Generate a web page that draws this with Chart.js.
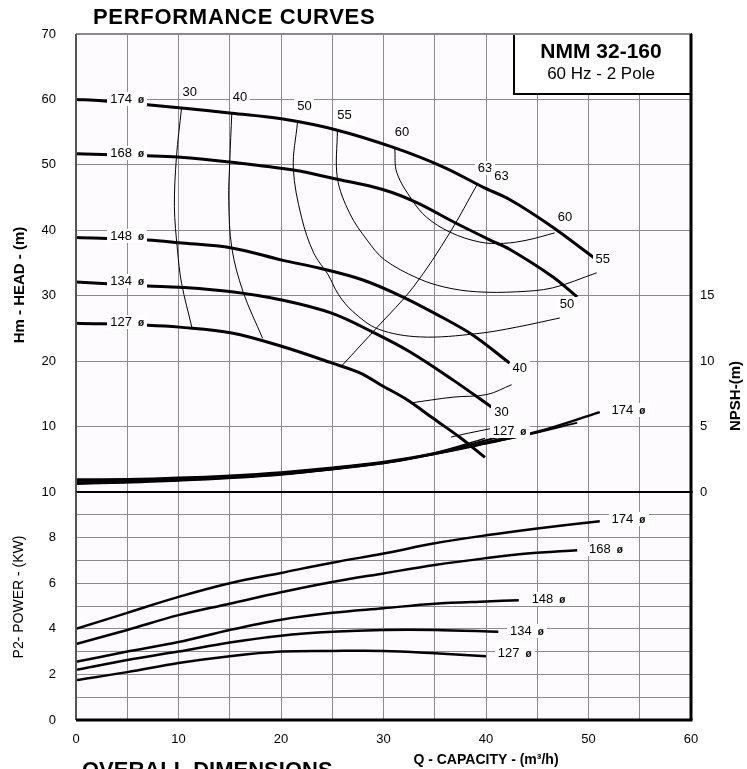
<!DOCTYPE html>
<html>
<head>
<meta charset="utf-8">
<script src="https://cdn.jsdelivr.net/npm/chart.js@4.4.1/dist/chart.umd.min.js"></script>
<style>
  html, body { margin: 0; padding: 0; background: #fff; }
  #wrap { position: relative; width: 747px; height: 769px; overflow: hidden; }
  #headChart { position: absolute; left: 0; top: 0; }
  #powerChart { position: absolute; left: 0; top: 480px; }
</style>
</head>
<body>
<div id="wrap">
  <canvas id="headChart" width="747" height="500"></canvas>
  <canvas id="powerChart" width="747" height="289"></canvas>
</div>
<script>
// tick labels
const capacityTicks = [0, 10, 20, 30, 40, 50, 60];
const headTicks = [10, 20, 30, 40, 50, 60, 70];
const npshTicks = [0, 5, 10, 15];
const powerTicks = [0, 2, 4, 6, 8, 10];

// impeller diameters
const diameters = ["174", "168", "148", "134", "127"];

// H-Q curves, [Q m3/h, H m]
const head174 = [[0, 60], [2.5, 59.8], [6.2, 59.3], [10.3, 58.7], [15.2, 57.9], [20.2, 57], [25.5, 55.3], [30.9, 52.7], [35.8, 49.7], [39.7, 46.6], [42.3, 44.7], [46.2, 40.8], [50.8, 35.5]];
const head168 = [[0, 51.7], [6.9, 51.4], [9.9, 51.2], [15.2, 50.4], [21.2, 49.2], [25.5, 47.8], [30, 46.2], [33.3, 44.2], [36.8, 41.3], [40.4, 38.5], [42.3, 37.1], [46.5, 32.9], [48.9, 29.8]];
const head148 = [[0, 38.9], [7, 38.5], [10, 38.1], [15.2, 37.3], [20.2, 35.4], [23.8, 34.2], [28, 32.4], [31.9, 29.8], [35, 27.3], [38.7, 24], [42.3, 19.7]];
const head134 = [[0, 32.1], [7, 31.5], [10.1, 31.3], [15.2, 30.6], [20.2, 29.3], [25, 27.3], [29, 24.4], [32.6, 21.4], [36.8, 17.1], [40.7, 12.8]];
const head127 = [[0, 25.8], [7, 25.5], [10.1, 25.2], [15.2, 24.3], [20.2, 22.2], [25, 19.7], [27.7, 18.2], [29.7, 16.4], [32.3, 14.1], [34.8, 11.3], [37.5, 8.3], [39.9, 5.3]];

// iso-efficiency curves (%), [Q, H]
const eff30a = [[10.3, 58.7], [9.8, 51.2], [9.6, 43.6], [9.9, 37], [10.3, 31.9], [11.3, 25.2]];
const eff30b = [[36.6, 8.4], [38.3, 9], [40.5, 9.7]];
const eff40a = [[15.2, 57.9], [15, 50.4], [14.9, 44.6], [15.2, 37.3], [16.3, 30.6], [18.2, 23.5]];
const eff40b = [[32.6, 13.6], [36.8, 14.5], [40.1, 14.9], [42.5, 16.4]];
const eff50 = [[21.6, 56.4], [21.2, 49.5], [22, 42], [23.2, 36.5], [24.6, 33.2], [25.6, 30.2], [27, 27.6], [29.5, 24.9], [33.6, 23.7], [39.1, 24.2], [43, 25.2], [47.2, 26.6]];
const eff55 = [[25.5, 55.3], [25.5, 48], [26.7, 42.6], [28.4, 38.5], [30.1, 35.5], [33.3, 32.7], [36, 31.3], [39.1, 30.6], [43, 30.6], [46.5, 31.2], [50.8, 33.5]];
const eff60 = [[31.1, 52.6], [31.3, 48.8], [32.8, 44.6], [34.2, 42], [36.5, 39.7], [39.4, 38.2], [41.7, 38], [44, 38.5], [46.7, 39.6]];
const eff63 = [[39.1, 46.9], [36.5, 39.7], [32.9, 31.3], [29.4, 25.2], [26, 19.4]];

// NPSH curves, [Q, NPSH m]
const npsh174 = [[0, 0.95], [5, 0.98], [10, 1.08], [15, 1.25], [20, 1.5], [25, 1.85], [30, 2.3], [35, 2.95], [40, 3.75], [45, 4.6], [51.1, 6.1]];
const npsh168 = [[0, 0.85], [10, 1], [20, 1.45], [30, 2.25], [35, 2.9], [40, 3.7], [45, 4.55], [48.9, 5.3]];
const npsh148 = [[0, 0.75], [10, 0.95], [20, 1.4], [30, 2.2], [35, 2.9], [40, 3.8], [43.2, 4.4]];
const npsh134 = [[0, 0.65], [10, 0.9], [20, 1.35], [30, 2.2], [35, 2.95], [41.2, 4.2]];
const npsh127 = [[0, 0.6], [10, 0.85], [20, 1.3], [30, 2.25], [35, 3], [39.9, 4.1]];

// P2 power curves, [Q, kW]
const power174 = [[0, 4], [5, 4.7], [10, 5.4], [15, 6], [20, 6.45], [25, 6.9], [30, 7.3], [35, 7.75], [40, 8.1], [45, 8.4], [51.1, 8.72]];
const power168 = [[0, 3.33], [5, 3.95], [10, 4.6], [15, 5.1], [20, 5.6], [25, 6.05], [30, 6.43], [35, 6.8], [40, 7.1], [44, 7.3], [48.9, 7.45]];
const power148 = [[0, 2.55], [5, 3], [10, 3.42], [15, 3.95], [20, 4.4], [25, 4.7], [30, 4.9], [35, 5.1], [40, 5.2], [43.2, 5.25]];
const power134 = [[0, 2.2], [5, 2.63], [10, 3], [15, 3.4], [20, 3.7], [25, 3.87], [30, 3.95], [35, 3.95], [41.2, 3.87]];
const power127 = [[0, 1.75], [5, 2.1], [10, 2.5], [15, 2.8], [20, 3], [25, 3.03], [30, 3.03], [35, 2.93], [40, 2.8]];

// curve labels: [text, Q, value]
const headTags = [[diameters[0], 5, 60.1], [diameters[1], 5, 51.8], [diameters[2], 5, 39.1], [diameters[3], 5, 32.2], [diameters[4], 5, 26]];
const npshTags = [[diameters[4], 42.3, 4.66], [diameters[0], 53.9, 6.26]];
const powerTags = [[diameters[0], 53.9, 8.82], [diameters[1], 51.7, 7.5], [diameters[2], 46.1, 5.3], [diameters[3], 44, 3.9], [diameters[4], 42.8, 2.94]];
const effTags = [["30", 11.1, 61.1], ["40", 16, 60.4], ["50", 22.3, 59], ["55", 26.2, 57.6], ["60", 31.8, 55], ["63", 39.9, 49.5], ["63", 41.5, 48.3],
  ["60", 47.7, 42], ["55", 51.4, 35.6], ["50", 47.9, 28.7], ["40", 43.3, 19], ["30", 41.5, 12.2]];

const FONT = '"Liberation Sans", Arial, Helvetica, sans-serif';
const GRID = "#8c8c8c";
const PLOT_BG = "#fdfbfd";

function line(data, yAxisID, width) {
    return {
        data: data.map(([x, y]) => ({ x, y })),
        xAxisID: "x",
        yAxisID,
        showLine: true,
        borderColor: "#000",
        borderWidth: width,
        pointRadius: 0,
        tension: 0.35,
        fill: false,
    };
}

function drawTag(ctx, chart, yId, tag, dia) {
    const [text, q, v] = tag;
    const x = chart.scales.x.getPixelForValue(q);
    const y = chart.scales[yId].getPixelForValue(v);
    ctx.save();
    ctx.font = "13px " + FONT;
    const w1 = ctx.measureText(text).width;
    let w2 = 0;
    if (dia) {
        ctx.font = "bold 10px " + FONT;
        w2 = ctx.measureText("ø").width + 6;
    }
    const w = w1 + w2;
    ctx.fillStyle = "#fff";
    ctx.fillRect(Math.round(x - w / 2 - 3), Math.round(y - 7), Math.round(w + 6), 14);
    ctx.fillStyle = "#000";
    ctx.textBaseline = "middle";
    ctx.textAlign = "left";
    ctx.font = "13px " + FONT;
    ctx.fillText(text, x - w / 2, y + 0.5);
    if (dia) {
        ctx.font = "bold 10px " + FONT;
        ctx.fillText("ø", x - w / 2 + w1 + 6, y + 1);
    }
    ctx.restore();
}

function textAt(ctx, str, x, y, font, align, rot) {
    ctx.save();
    ctx.font = font;
    ctx.fillStyle = "#000";
    ctx.textAlign = align || "center";
    ctx.textBaseline = "middle";
    ctx.translate(x, y);
    if (rot) ctx.rotate(rot);
    ctx.fillText(str, 0, 0);
    ctx.restore();
}

function edge(ctx, x1, y1, x2, y2, color, width) {
    ctx.save();
    ctx.strokeStyle = color;
    ctx.lineWidth = width;
    ctx.beginPath();
    ctx.moveTo(x1, y1);
    ctx.lineTo(x2, y2);
    ctx.stroke();
    ctx.restore();
}

// fixed axis sizes, so both panels share one plot area
function fixWidth(w) {
    return s => {
        s.width = w;
        s.paddingTop = 0;
        s.paddingBottom = 0;
    };
}

const plotBackground = {
    id: "plotBackground",
    beforeDraw(chart) {
        const a = chart.chartArea;
        chart.ctx.save();
        chart.ctx.fillStyle = PLOT_BG;
        chart.ctx.fillRect(a.left, a.top, a.right - a.left, a.bottom - a.top);
        chart.ctx.restore();
    },
};

const headOverlay = {
    id: "headOverlay",
    afterDatasetsDraw(chart) {
        const ctx = chart.ctx;
        const a = chart.chartArea;
        headTags.forEach(t => drawTag(ctx, chart, "yHead", t, true));
        npshTags.forEach(t => drawTag(ctx, chart, "yNpsh", t, true));
        effTags.forEach(t => drawTag(ctx, chart, "yHead", t, false));

        // model box
        ctx.save();
        ctx.fillStyle = "#fff";
        ctx.fillRect(513, a.top, a.right - 513, 60);
        ctx.strokeStyle = "#000";
        ctx.lineWidth = 2;
        ctx.strokeRect(514, a.top, a.right - 514, 60);
        ctx.restore();
        textAt(ctx, "NMM 32-160", 601, 52, "bold 21px " + FONT);
        textAt(ctx, "60 Hz - 2 Pole", 601, 74, "17px " + FONT);

        // frame
        edge(ctx, a.left, a.top, a.right, a.top, "#8a8a8a", 2);
        edge(ctx, a.left, a.top, a.left, a.bottom, "#555", 2);
        edge(ctx, a.right, a.top, a.right, a.bottom, "#000", 3);
        edge(ctx, a.left, a.bottom, a.right + 1.5, a.bottom, "#000", 2);

        ctx.save();
        ctx.letterSpacing = "0.7px";
        textAt(ctx, "PERFORMANCE CURVES", 93, 18, "bold 22px " + FONT, "left");
        ctx.restore();
        textAt(ctx, "Hm - HEAD - (m)", 20, 285, "bold 15px " + FONT, "center", -Math.PI / 2);
        textAt(ctx, "NPSH-(m)", 736, 396, "bold 15px " + FONT, "center", -Math.PI / 2);
    },
};

const powerOverlay = {
    id: "powerOverlay",
    afterDatasetsDraw(chart) {
        const ctx = chart.ctx;
        const a = chart.chartArea;
        powerTags.forEach(t => drawTag(ctx, chart, "yPower", t, true));

        edge(ctx, a.left, a.top, a.right, a.top, "#000", 2);
        edge(ctx, a.left, a.top, a.left, a.bottom, "#555", 2);
        edge(ctx, a.right, a.top - 1, a.right, a.bottom, "#000", 3);
        edge(ctx, a.left, a.bottom, a.right + 1.5, a.bottom, "#000", 3);

        textAt(ctx, "P2- POWER - (KW)", 19, 117, "14px " + FONT, "center", -Math.PI / 2);
        textAt(ctx, "Q - CAPACITY - (m³/h)", 486, 280, "bold 14px " + FONT);
        ctx.save();
        ctx.font = "bold 22px " + FONT;
        ctx.fillStyle = "#000";
        ctx.textBaseline = "alphabetic";
        ctx.fillText("OVERALL DIMENSIONS", 82, 297);
        ctx.restore();
    },
};

const tickFont = { family: FONT, size: 13 };

new Chart(document.getElementById("headChart"), {
    type: "scatter",
    data: {
        datasets: [
            line(head174, "yHead", 3), line(head168, "yHead", 3), line(head148, "yHead", 3),
            line(head134, "yHead", 3), line(head127, "yHead", 3),
            line(eff30a, "yHead", 1), line(eff30b, "yHead", 1), line(eff40a, "yHead", 1), line(eff40b, "yHead", 1),
            line(eff50, "yHead", 1), line(eff55, "yHead", 1), line(eff60, "yHead", 1), line(eff63, "yHead", 1),
            line(npsh174, "yNpsh", 2.5), line(npsh168, "yNpsh", 2), line(npsh148, "yNpsh", 2),
            line(npsh134, "yNpsh", 2), line(npsh127, "yNpsh", 1.5),
        ],
    },
    options: {
        responsive: false,
        animation: false,
        devicePixelRatio: 1,
        events: [],
        layout: { padding: { top: 34, bottom: 8, left: 0, right: 0 } },
        plugins: { legend: { display: false }, tooltip: { enabled: false } },
        scales: {
            x: {
                type: "linear", min: 0, max: 60,
                ticks: { display: false, stepSize: 5 },
                grid: { color: GRID, drawTicks: false },
                border: { display: false },
                afterFit: s => { s.height = 0; },
            },
            yHead: {
                type: "linear", position: "left", min: 0, max: 70,
                ticks: { stepSize: 10, padding: 20, color: "#000", font: tickFont, callback: v => headTicks.includes(v) ? String(v) : "" },
                grid: { color: GRID, drawTicks: false },
                border: { display: false },
                afterFit: fixWidth(76),
            },
            yNpsh: {
                type: "linear", position: "right", min: 0, max: 35,
                ticks: { stepSize: 5, padding: 9, color: "#000", font: tickFont, callback: v => npshTicks.includes(v) ? String(v) : "" },
                grid: { display: false, drawTicks: false },
                border: { display: false },
                afterFit: fixWidth(56),
            },
        },
    },
    plugins: [plotBackground, headOverlay],
});

new Chart(document.getElementById("powerChart"), {
    type: "scatter",
    data: {
        datasets: [
            line(power174, "yPower", 2.5), line(power168, "yPower", 2.5), line(power148, "yPower", 2.5),
            line(power134, "yPower", 2.5), line(power127, "yPower", 2.5),
        ],
    },
    options: {
        responsive: false,
        animation: false,
        devicePixelRatio: 1,
        events: [],
        layout: { padding: { top: 12, bottom: 0, left: 0, right: 56 } },
        plugins: { legend: { display: false }, tooltip: { enabled: false } },
        scales: {
            x: {
                type: "linear", min: 0, max: 60,
                ticks: { stepSize: 5, autoSkip: false, maxRotation: 0, padding: 12, color: "#000", font: tickFont, callback: v => capacityTicks.includes(v) ? String(v) : "" },
                grid: { color: GRID, drawTicks: false },
                border: { display: false },
                afterFit: s => { s.height = 49; },
            },
            yPower: {
                type: "linear", position: "left", min: 0, max: 10,
                ticks: { stepSize: 1, padding: 20, color: "#000", font: tickFont, callback: v => powerTicks.includes(v) ? String(v) : "" },
                grid: { color: GRID, drawTicks: false },
                border: { display: false },
                afterFit: fixWidth(76),
            },
        },
    },
    plugins: [plotBackground, powerOverlay],
});
</script>
</body>
</html>
